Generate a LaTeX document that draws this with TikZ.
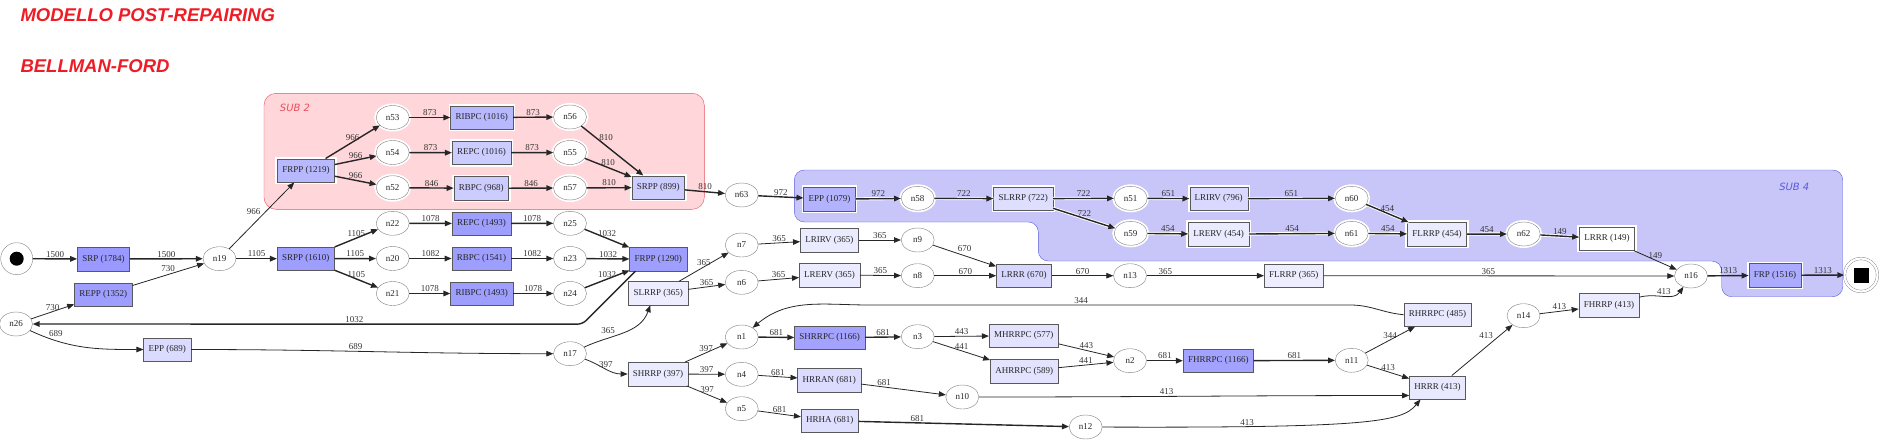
\documentclass[tikz,border=0pt]{standalone}
\usepackage{fontspec}
\setmainfont{Liberation Serif}
\newfontfamily\titlefont{Liberation Sans}
\newfontfamily\clusterfont{DejaVu Sans}
\usepackage{tikz}
\usetikzlibrary{arrows.meta,shapes.geometric}
\definecolor{titlered}{HTML}{EE1C25}
\definecolor{subredfill}{HTML}{FFD6DA}
\definecolor{subredline}{HTML}{E8505F}
\definecolor{subbluefill}{HTML}{C8C5F9}
\definecolor{subblueline}{HTML}{5A5AE0}

\begin{document}
\begin{tikzpicture}[x=1pt,y=-1pt,
  every node/.style={font=\fontsize{9}{10}\selectfont},
  box/.style={rectangle,draw=black!65,fill=blue!#1!white,minimum height=23.5pt,
    inner xsep=5pt,inner ysep=0pt,text=black!85},
  evt/.style={ellipse,draw=black!50,fill=white,minimum width=33pt,minimum height=24pt,
    inner sep=0pt,text=black!85},
  halo/.style={preaction={draw=white,line width=4pt}},
  lbl/.style={inner sep=1pt,text=black!80},
  conn/.style={-{Triangle[length=7pt,width=5.5pt]},line width=0.8pt,draw=black!85},
  bconn/.style={conn,line width=1.4pt},
  hconn/.style={bconn,preaction={draw=white,line width=3.2pt,arrows=-}},
  sublbl/.style={font=\clusterfont\itshape\fontsize{10}{12}\selectfont},
  titletext/.style={anchor=base west,text=titlered,
    font=\titlefont\bfseries\itshape\fontsize{18.5}{20}\selectfont}]
\useasboundingbox (0,0) rectangle (1885,447);

% titles
\node[titletext] (title) at (17,21.7) {MODELLO POST-REPAIRING};
\node[titletext] (algo) at (17,72.7) {BELLMAN-FORD};

% clusters
\draw[subredline,fill=subredfill,rounded corners=12pt] (264,93.3) rectangle (704.3,209.3);
\draw[subblueline,fill=subbluefill,rounded corners=10pt] (794.3,170) -- (1842.7,170)
  -- (1842.7,296.7) -- (1721.7,296.7) -- (1721.7,261) -- (1038.3,261)
  -- (1038.3,222) -- (794.3,222) -- cycle;
\node[sublbl,text=subredline] (sub2) at (295,108.3) {SUB 2};
\node[sublbl,text=subblueline] (sub4) at (1794.3,186.7) {SUB 4};

% start and end
\node[circle,draw=black!50,fill=white,minimum size=32pt,inner sep=0pt] (start) at (16.7,258.7) {};
\node[circle,fill=black,minimum size=14pt,inner sep=0pt] (startdot) at (start) {};
\node[circle,draw=black!50,double,double distance=2.2pt,minimum size=33pt,inner sep=0pt] (finish) at (1861,275) {};
\node[rectangle,fill=black,minimum size=15pt,inner sep=0pt] (finsq) at (finish) {};

% left part
\node[box=40] (srp) at (103.5,259) {SRP (1784)};
\node[box=38] (repp) at (103.3,294.5) {REPP (1352)};
\node[evt] (n26) at (16,324) {n26};
\node[box=14] (eppa) at (167.3,349.5) {EPP (689)};
\node[evt] (n19) at (219.5,258.7) {n19};
\node[box=38] (srppa) at (305.8,258.7) {SRPP (1610)};
\node[evt] (n22) at (392.7,223.3) {n22};
\node[evt] (n20) at (392.7,258.5) {n20};
\node[evt] (n21) at (392.7,293.5) {n21};
\node[box=38] (repcb) at (481.5,223.5) {REPC (1493)};
\node[box=38] (rbpcb) at (481.5,258.5) {RBPC (1541)};
\node[box=38] (ribpcb) at (481.7,293.5) {RIBPC (1493)};
\node[evt] (n25) at (570,223.3) {n25};
\node[evt] (n23) at (570,258.5) {n23};
\node[evt] (n24) at (570,293.5) {n24};
\node[box=38] (frppb) at (658.3,259.2) {FRPP (1290)};

% SUB 2
\node[box=28,halo] (frppa) at (306,170.5) {FRPP (1219)};
\node[evt,halo] (n53) at (392.7,117.5) {n53};
\node[evt,halo] (n54) at (392.7,152.5) {n54};
\node[evt,halo] (n52) at (392.7,187.7) {n52};
\node[box=28,halo] (ribpca) at (481.7,117.5) {RIBPC (1016)};
\node[box=20,halo] (repca) at (481.5,152.8) {REPC (1016)};
\node[box=20,halo] (rbpca) at (481.3,188.3) {RBPC (968)};
\node[evt,halo] (n56) at (570,117) {n56};
\node[evt,halo] (n55) at (570,152.5) {n55};
\node[evt,halo] (n57) at (570,188) {n57};
\node[box=20,halo] (srppb) at (658.3,187.5) {SRPP (899)};
\node[evt] (n63) at (741.7,195) {n63};

% SUB 4
\node[box=30,halo] (eppb) at (829.5,199.2) {EPP (1079)};
\node[evt,halo] (n58) at (917.7,198.3) {n58};
\node[box=13,halo] (slrrpb) at (1023.3,198.7) {SLRRP (722)};
\node[evt,halo] (n51) at (1130.7,198.3) {n51};
\node[evt,halo] (n59) at (1130.7,233.3) {n59};
\node[box=15,halo] (lrirvb) at (1218.7,198.7) {LRIRV (796)};
\node[box=8,halo] (lrervb) at (1218.7,234.2) {LRERV (454)};
\node[evt,halo] (n60) at (1351.7,198.3) {n60};
\node[evt,halo] (n61) at (1351.7,233.3) {n61};
\node[box=8,halo] (flrrpb) at (1437,234.2) {FLRRP (454)};
\node[evt,halo] (n62) at (1523.7,234) {n62};
\node[box=0,halo] (lrrrb) at (1607,238.7) {LRRR (149)};
\node[box=33,halo] (frp) at (1775,275.3) {FRP (1516)};
\node[evt] (n16) at (1691,276) {n16};

% lower part
\node[evt] (n17) at (570,353.7) {n17};
\node[box=7] (slrrpa) at (658.3,293.3) {SLRRP (365)};
\node[box=8] (shrrp) at (658,374) {SHRRP (397)};
\node[evt] (n7) at (741.7,245) {n7};
\node[evt] (n6) at (741.7,282.3) {n6};
\node[evt] (n1) at (741.7,337) {n1};
\node[evt] (n4) at (741.7,374.3) {n4};
\node[evt] (n5) at (741.7,408.7) {n5};
\node[box=8] (lrirva) at (829.3,240) {LRIRV (365)};
\node[box=8] (lrerva) at (829.5,275) {LRERV (365)};
\node[box=36] (shrrpc) at (829.7,337.7) {SHRRPC (1166)};
\node[box=14] (hrran) at (829.3,380) {HRRAN (681)};
\node[box=13] (hrha) at (829.7,420.7) {HRHA (681)};
\node[evt] (n9) at (917.7,240) {n9};
\node[evt] (n8) at (917.7,275.7) {n8};
\node[evt] (n3) at (917.7,336.7) {n3};
\node[evt] (n10) at (962.3,397) {n10};
\node[box=16] (lrrra) at (1024,275.7) {LRRR (670)};
\node[box=11] (mhrrpc) at (1023.8,335.7) {MHRRPC (577)};
\node[box=11] (ahrrpc) at (1024.2,371) {AHRRPC (589)};
\node[evt] (n12) at (1085.7,427) {n12};
\node[evt] (n13) at (1130,275.7) {n13};
\node[evt] (n2) at (1130,360.7) {n2};
\node[box=36] (fhrrpc) at (1218.3,360.7) {FHRRPC (1166)};
\node[box=7] (flrrpa) at (1293.8,275.7) {FLRRP (365)};
\node[evt] (n11) at (1351.7,360.3) {n11};
\node[box=9] (rhrrpc) at (1437.5,314.7) {RHRRPC (485)};
\node[box=9] (hrrr) at (1437.5,387.5) {HRRR (413)};
\node[evt] (n14) at (1523.5,315.7) {n14};
\node[box=8] (fhrrp) at (1609,305.3) {FHRRP (413)};
\coordinate (bend344a) at (1350,305);
\coordinate (bend344b) at (870,305);

% edges, left part
\draw[bconn] (start) -- node[lbl,above]{1500} (srp);
\draw[bconn] (srp) -- node[lbl,above]{1500} (n19);
\draw[conn] (repp) -- node[lbl,above=2pt]{730} (n19);
\draw[conn] (n26) -- node[lbl,above]{730} (repp);
\draw[conn] (n26) to[out=-25,in=180] node[lbl,above right,pos=.15]{689} (eppa);
\draw[conn] (eppa) to[out=0,in=180] node[lbl,above,pos=.45]{689} (n17);
\draw[bconn] (n19) -- node[lbl,above]{1105} (srppa);
\draw[conn] (n19) -- node[lbl,above left]{966} (frppa);
\draw[bconn] (srppa) -- node[lbl,above]{1105} (n22);
\draw[bconn] (srppa) -- node[lbl,above]{1105} (n20);
\draw[bconn] (srppa) -- node[lbl,above]{1105} (n21);
\draw[bconn] (n22) -- node[lbl,above]{1078} (repcb);
\draw[bconn] (repcb) -- node[lbl,above]{1078} (n25);
\draw[bconn] (n20) -- node[lbl,above]{1082} (rbpcb);
\draw[bconn] (rbpcb) -- node[lbl,above]{1082} (n23);
\draw[bconn] (n21) -- node[lbl,above]{1078} (ribpcb);
\draw[bconn] (ribpcb) -- node[lbl,above]{1078} (n24);
\draw[bconn] (n25) -- node[lbl,above]{1032} (frppb);
\draw[bconn] (n23) -- node[lbl,above]{1032} (frppb);
\draw[bconn] (n24) -- node[lbl,above]{1032} (frppb);
\draw[bconn,rounded corners=5pt] ([xshift=6pt]frppb.south west) -- ++(-53,53)
  -- node[lbl,above,pos=.415]{1032} (n26);

% edges, SUB 2
\draw[bconn] (frppa) -- node[lbl,above]{966} (n53);
\draw[bconn] (frppa) -- node[lbl,above]{966} (n54);
\draw[bconn] (frppa) -- node[lbl,above]{966} (n52);
\draw[bconn] (n53) -- node[lbl,above]{873} (ribpca);
\draw[bconn] (ribpca) -- node[lbl,above]{873} (n56);
\draw[bconn] (n54) -- node[lbl,above]{873} (repca);
\draw[bconn] (repca) -- node[lbl,above]{873} (n55);
\draw[bconn] (n52) -- node[lbl,above]{846} (rbpca);
\draw[bconn] (rbpca) -- node[lbl,above]{846} (n57);
\draw[bconn] (n56) -- node[lbl,above=4pt,pos=.4]{810} (srppb);
\draw[bconn] (n55) -- node[lbl,above]{810} (srppb);
\draw[bconn] (n57) -- node[lbl,above]{810} (srppb);
\draw[bconn] (srppb) -- node[lbl,above]{810} (n63);
\draw[bconn] (n63) -- node[lbl,above]{972} (eppb);

% edges, SUB 4
\draw[hconn] (eppb) -- node[lbl,above]{972} (n58);
\draw[hconn] (n58) -- node[lbl,above]{722} (slrrpb);
\draw[hconn] (slrrpb) -- node[lbl,above]{722} (n51);
\draw[hconn] (slrrpb) -- node[lbl,above]{722} (n59);
\draw[hconn] (n51) -- node[lbl,above]{651} (lrirvb);
\draw[hconn] (lrirvb) -- node[lbl,above]{651} (n60);
\draw[hconn] (n59) -- node[lbl,above]{454} (lrervb);
\draw[hconn] (lrervb) -- node[lbl,above]{454} (n61);
\draw[hconn] (n60) -- node[lbl,above]{454} (flrrpb);
\draw[hconn] (n61) -- node[lbl,above]{454} (flrrpb);
\draw[hconn] (flrrpb) -- node[lbl,above]{454} (n62);
\draw[hconn] (n62) -- node[lbl,above]{149} (lrrrb);
\draw[conn] (lrrrb) -- node[lbl,above]{149} (n16);
\draw[bconn] (n16) -- node[lbl,above]{1313} (frp);
\draw[bconn] (frp) -- node[lbl,above]{1313} (finish);

% edges, lower part
\draw[conn] (n17) to[out=25,in=-110] node[lbl,above left,pos=.4]{365} ([xshift=-8pt]slrrpa.south);
\draw[conn] (n17) to[out=-20,in=180] node[lbl,above]{397} (shrrp);
\draw[conn] (slrrpa) -- node[lbl,above]{365} (n7);
\draw[conn] (slrrpa) -- node[lbl,above]{365} (n6);
\draw[conn] (n7) -- node[lbl,above]{365} (lrirva);
\draw[conn] (n6) -- node[lbl,above]{365} (lrerva);
\draw[conn] (lrirva) -- node[lbl,above]{365} (n9);
\draw[conn] (lrerva) -- node[lbl,above]{365} (n8);
\draw[conn] (n9) -- node[lbl,above=3pt]{670} (lrrra);
\draw[conn] (n8) -- node[lbl,above]{670} (lrrra);
\draw[conn] (lrrra) -- node[lbl,above]{670} (n13);
\draw[conn] (n13) -- node[lbl,above,pos=.16]{365} (flrrpa);
\draw[conn] (flrrpa) -- node[lbl,above,pos=.47]{365} (n16);
\draw[conn] (shrrp) -- node[lbl,above]{397} (n1);
\draw[conn] (shrrp) -- node[lbl,above]{397} (n4);
\draw[conn] (shrrp) -- node[lbl,above]{397} (n5);
\draw[bconn] (n1) -- node[lbl,above]{681} (shrrpc);
\draw[conn] (n4) -- node[lbl,above]{681} (hrran);
\draw[conn] (n5) -- node[lbl,above]{681} (hrha);
\draw[bconn] (shrrpc) -- node[lbl,above]{681} (n3);
\draw[conn] (n3) -- node[lbl,above]{443} (mhrrpc);
\draw[conn] (n3) -- node[lbl,above]{441} (ahrrpc);
\draw[conn] (mhrrpc) -- node[lbl,above]{443} (n2);
\draw[conn] (ahrrpc) -- node[lbl,above]{441} (n2);
\draw[bconn] (n2) -- node[lbl,above]{681} (fhrrpc);
\draw[bconn] (fhrrpc) -- node[lbl,above]{681} (n11);
\draw[conn] (n11) -- node[lbl,above]{344} (rhrrpc);
\draw[conn] (n11) -- node[lbl,above]{413} (hrrr);
\draw[conn] (rhrrpc.west) to[out=175,in=0] (bend344a)
  -- node[lbl,above,pos=.56]{344} (bend344b) to[out=180,in=40] (n1);
\draw[conn] (hrran) -- node[lbl,above,pos=.27]{681} (n10);
\draw[bconn] (hrha) -- node[lbl,above,pos=.28]{681} (n12);
\draw[conn] (n10) to[out=0,in=180] node[lbl,above,pos=.43]{413} ([yshift=-8pt]hrrr.west);
\draw[conn] (n12) .. controls (1370,428) and (1402,422) .. node[lbl,above,pos=.22]{413} ([xshift=-17pt]hrrr.south);
\draw[conn] (hrrr) -- node[lbl,above left,pos=.7]{413} (n14);
\draw[conn] (n14) -- node[lbl,above]{413} (fhrrp);
\draw[conn] (fhrrp) to[out=15,in=235] node[lbl,above]{413} (n16);
\end{tikzpicture}
\end{document}
